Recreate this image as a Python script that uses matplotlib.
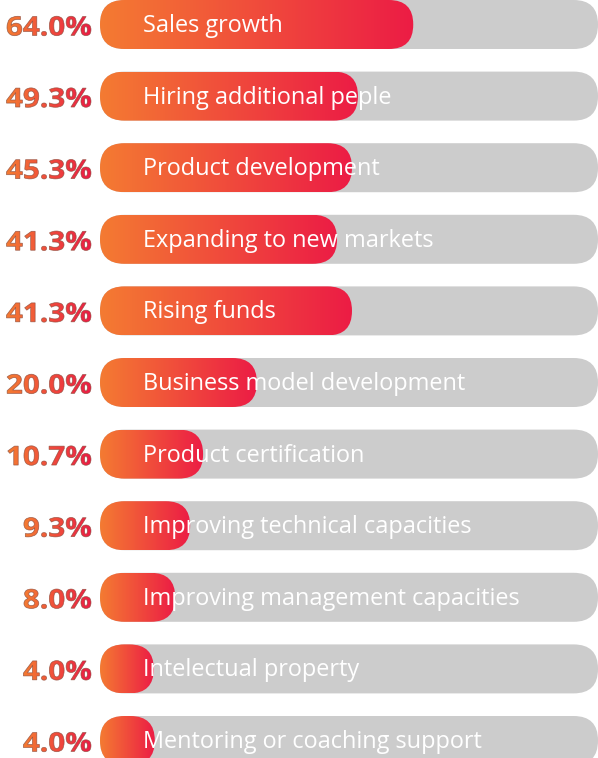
import numpy as np
import matplotlib
matplotlib.use('Agg')
import matplotlib.pyplot as plt
from matplotlib.patches import FancyBboxPatch, PathPatch
from matplotlib.textpath import TextPath
from matplotlib.font_manager import FontProperties
from matplotlib.colors import LinearSegmentedColormap
from matplotlib.transforms import Affine2D

# datos
labels = ['Sales growth', 'Hiring additional peple', 'Product development',
          'Expanding to new markets', 'Rising funds', 'Business model development',
          'Product certification', 'Improving technical capacities',
          'Improving management capacities', 'Intelectual property',
          'Mentoring or coaching support']
pcts = [64.0, 49.3, 45.3, 41.3, 41.3, 20.0, 10.7, 9.3, 8.0, 4.0, 4.0]
# largo visible de cada barra (% del riel gris)
fill = [62.9, 51.8, 50.6, 47.6, 50.6, 31.5, 20.7, 18.1, 15.1, 10.8, 11.0]

# escala: pixeles por unidad
PX_X = 4.98
PX_Y = 71.6
W, H = 598, 758

fig = plt.figure(figsize=(W / 100, H / 100), dpi=100)
ax = fig.add_axes([0, 0, 1, 1])
ax.axis('off')

cmap = LinearSegmentedColormap.from_list('naranja', ['#F47B32', '#EC1C45'])
grad = np.linspace(0, 1, 256).reshape(1, -1)

bar_h = 49 / PX_Y
r = 24.3 / PX_X
m = PX_X / PX_Y
estilo = f"round,pad=0,rounding_size={r}"

fp = FontProperties(family='Open Sans', weight='bold')
h0 = TextPath((0, 0), '0', size=1, prop=fp).get_extents().height
size_px = 19.5 / h0
# estirar un poco en horizontal, la fuente original es mas ancha
w_ref = TextPath((0, 0), '64.0%', size=size_px, prop=fp).get_extents().width
stretch = 84 / w_ref

for i in range(len(labels)):
    # riel gris
    track = FancyBboxPatch((0, i - bar_h / 2), 100, bar_h, boxstyle=estilo,
                           mutation_aspect=m, fc='#CCCCCC', ec='none', zorder=1)
    ax.add_patch(track)
    # barra con degradado
    clip = FancyBboxPatch((0, i - bar_h / 2), fill[i], bar_h, boxstyle=estilo,
                          mutation_aspect=m, fc='none', ec='none', zorder=2)
    ax.add_patch(clip)
    im = ax.imshow(grad, cmap=cmap, aspect='auto', interpolation='bicubic',
                   extent=[0, fill[i], i + bar_h / 2, i - bar_h / 2], zorder=2)
    im.set_clip_path(clip)
    # etiqueta
    ax.text((143 - 100) / PX_X, i + 1.5 / PX_Y, labels[i], color='white', fontsize=16.9,
            family='Open Sans', va='center', ha='left', zorder=5)

    # porcentaje con degradado
    s = f"{pcts[i]:.1f}%"
    tp = TextPath((0, 0), s, size=size_px, prop=fp)
    bb = tp.get_extents()
    tr = (Affine2D().translate(-bb.x1, -(bb.y0 + bb.y1) / 2)
          .scale(stretch / PX_X, -1 / PX_Y).translate((91 - 100) / PX_X, i + 1.5 / PX_Y)
          + ax.transData)
    pp = PathPatch(tp, transform=tr, fc='none', ec='#8a4a3a', lw=0.5, alpha=0.8, zorder=4)
    ax.add_patch(pp)
    x1 = (91 - 100) / PX_X
    x0 = x1 - bb.width * stretch / PX_X
    im2 = ax.imshow(grad, cmap=cmap, aspect='auto', interpolation='bicubic',
                    extent=[x0, x1, i + bar_h / 2, i - bar_h / 2], zorder=3)
    im2.set_clip_path(pp)

ax.set_xlim(-100 / PX_X, (W - 100) / PX_X)
ax.set_ylim((H - 24.5) / PX_Y, -24.5 / PX_Y)

plt.savefig('out.png', dpi=100)
